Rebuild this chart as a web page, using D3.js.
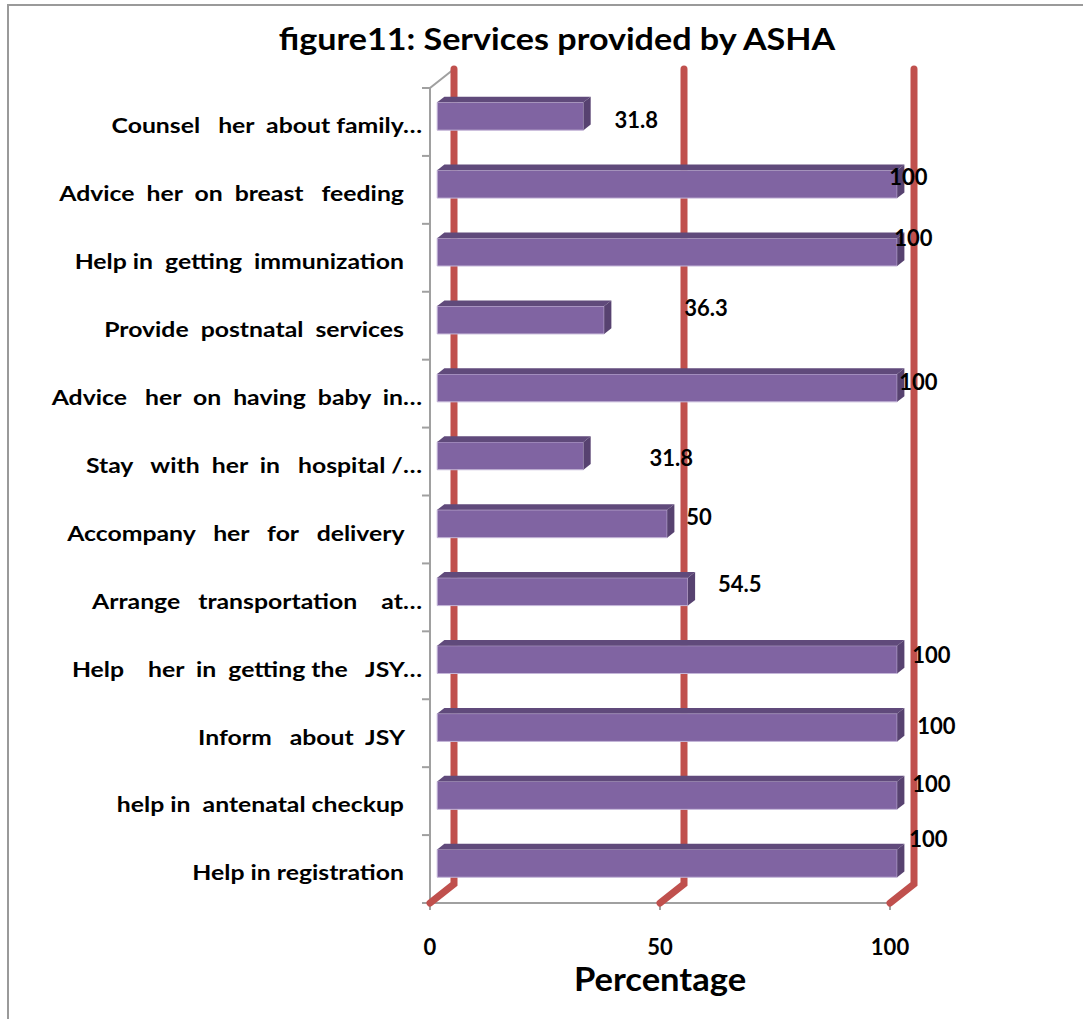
<!DOCTYPE html>
<html>
<head>
<meta charset="utf-8">
<script src="https://cdn.jsdelivr.net/npm/d3@7"></script>
<style>
  html, body { margin: 0; padding: 0; background: #fff; }
  svg { display: block; }
  text { font-family: Lato, "Open Sans", sans-serif; font-weight: bold; fill: #000; }
</style>
</head>
<body>
<svg id="chart" width="1083" height="1019"></svg>
<script>
// Services provided by ASHA, top to bottom
const categories = [
  "Counsel   her  about family…",
  "Advice  her  on  breast   feeding   ",
  "Help in  getting  immunization   ",
  "Provide  postnatal  services   ",
  "Advice   her  on  having  baby  in…",
  "Stay   with  her  in   hospital /…",
  "Accompany   her   for   delivery   ",
  "Arrange   transportation    at…",
  "Help    her  in  getting the   JSY…",
  "Inform   about  JSY   ",
  "help in  antenatal checkup   ",
  "Help in registration   "
];
const percentages = [31.8, 100, 100, 36.3, 100, 31.8, 50, 54.5, 100, 100, 100, 100];
const xTicks = [0, 50, 100];

// small per-label nudges (px) for the value labels, as laid out by the 3-D renderer
const labelNudgeX = [31, -8, -3, 80, 2, 66, 19, 30, 15, 20, 15, 12];
const labelNudgeY = [-2, -13, -19, -17, -11, -3, -12, -13, -10, -7, -17, -30];

const svg = d3.select("#chart");

// outer frame
svg.append("rect")
  .attr("x", 8).attr("y", 5).attr("width", 1200).attr("height", 1200)
  .attr("fill", "none").attr("stroke", "#9a9a9a").attr("stroke-width", 2);

// title (the face is set a little wide)
svg.append("text")
  .attr("transform", "translate(557,50) scale(1.1,1)")
  .attr("text-anchor", "middle")
  .style("font-size", "31px")
  .text("figure11: Services provided by ASHA");

// front plane scales
const x = d3.scaleLinear().domain([0, 100]).range([430, 890]);
const y = d3.scaleBand().domain(categories).range([88, 903])
  .paddingInner(0.59).paddingOuter(0.295);

// depth offsets of the 3-D box (back wall) and the bar slab
const DX = 24, DY = 19;
const barZ0 = 0.3, barZ1 = 0.6;
const proj = (v, py, z) => [x(v) + z * DX, py - z * DY];

const [yTop, yBot] = y.range();
const gAxis = svg.append("g");
const gray = "#a0a0a0";

// vertical category axis with the top edge of the wall
gAxis.append("path")
  .attr("d", d3.line()([[x(0), yBot], [x(0), yTop], proj(0, yTop, 1)]))
  .attr("fill", "none").attr("stroke", gray).attr("stroke-width", 2);
// category tick marks at band boundaries
const step = y.step();
gAxis.selectAll("line.ct")
  .data(d3.range(categories.length + 1))
  .join("line")
  .attr("class", "ct")
  .attr("x1", x(0) - 8).attr("x2", x(0))
  .attr("y1", i => yTop + i * step).attr("y2", i => yTop + i * step)
  .attr("stroke", gray).attr("stroke-width", 2);

// floor front edge with value ticks
gAxis.append("line")
  .attr("x1", x(0)).attr("x2", x(100)).attr("y1", yBot).attr("y2", yBot)
  .attr("stroke", gray).attr("stroke-width", 2);
gAxis.selectAll("line.vt")
  .data(xTicks)
  .join("line")
  .attr("class", "vt")
  .attr("x1", d => x(d)).attr("x2", d => x(d))
  .attr("y1", yBot).attr("y2", yBot + 7)
  .attr("stroke", gray).attr("stroke-width", 2);

// value axis labels
svg.selectAll("text.xt")
  .data(xTicks)
  .join("text")
  .attr("class", "xt")
  .attr("x", d => x(d)).attr("y", 955)
  .attr("text-anchor", "middle")
  .style("font-size", "22px")
  .text(d => d);

svg.append("text")
  .attr("transform", "translate(660,991) scale(1.08,1)")
  .attr("text-anchor", "middle")
  .style("font-size", "32px")
  .text("Percentage");

// red gridlines on the back wall, folding across the floor
svg.selectAll("path.grid")
  .data(xTicks)
  .join("path")
  .attr("class", "grid")
  .attr("d", d => d3.line()([proj(d, yTop, 1), proj(d, yBot, 1), proj(d, yBot, 0)]))
  .attr("fill", "none")
  .attr("stroke", "#c0504d")
  .attr("stroke-width", 7)
  .attr("stroke-linecap", "round")
  .attr("stroke-linejoin", "miter");

// category labels, right-aligned against the axis and set wide
svg.selectAll("text.cat")
  .data(categories)
  .join("text")
  .attr("class", "cat")
  .attr("transform", d => `translate(422,${y(d) + y.bandwidth() / 2 + 4}) scale(1.18,1)`)
  .attr("dy", "0.35em")
  .attr("text-anchor", "end")
  .style("font-size", "21px")
  .style("white-space", "pre")
  .text(d => d);

// 3-D bars
const bars = svg.selectAll("g.bar")
  .data(categories.map((c, i) => ({ c, v: percentages[i], i })))
  .join("g")
  .attr("class", "bar");

// front face
bars.append("path")
  .attr("d", d => {
    const t = y(d.c), b = t + y.bandwidth();
    return d3.line()([proj(0, t, barZ0), proj(d.v, t, barZ0), proj(d.v, b, barZ0), proj(0, b, barZ0)]) + "Z";
  })
  .attr("fill", "#8064a2")
  .attr("stroke", "#c4b6d8").attr("stroke-width", 1);

// top face
bars.append("path")
  .attr("d", d => {
    const t = y(d.c);
    return d3.line()([proj(0, t, barZ0), proj(d.v, t, barZ0), proj(d.v, t, barZ1), proj(0, t, barZ1)]) + "Z";
  })
  .attr("fill", "#604a7b");

// end face
bars.append("path")
  .attr("d", d => {
    const t = y(d.c), b = t + y.bandwidth();
    return d3.line()([proj(d.v, t, barZ0), proj(d.v, t, barZ1), proj(d.v, b, barZ1), proj(d.v, b, barZ0)]) + "Z";
  })
  .attr("fill", "#574270");

// value labels
svg.selectAll("text.val")
  .data(categories.map((c, i) => ({ c, v: percentages[i], i })))
  .join("text")
  .attr("class", "val")
  .attr("x", d => proj(d.v, 0, barZ0)[0] + labelNudgeX[d.i])
  .attr("y", d => y(d.c) + y.bandwidth() / 2 + labelNudgeY[d.i])
  .attr("dy", "0.35em")
  .style("font-size", "22px")
  .text(d => d.v);
</script>
</body>
</html>
